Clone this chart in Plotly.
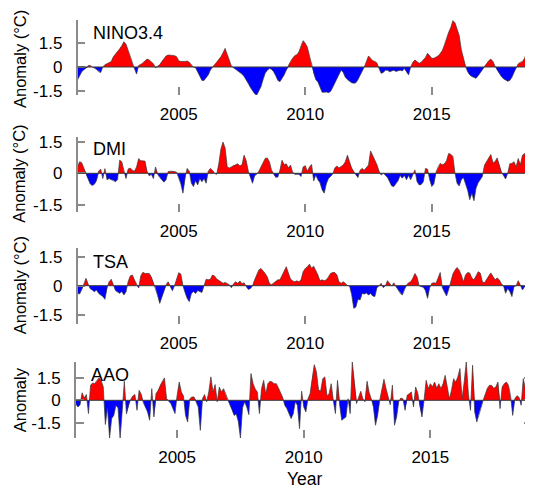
import plotly.graph_objects as go

# ---------------- data (monthly anomalies, Jan 2001 .. Dec 2018) ----------------
start_year = 2001
nino34 = [
    -0.82, -0.55, -0.30, -0.18, -0.08, 0.08, 0.10, 0.00, -0.05, -0.15, -0.30, -0.35,
    0.00, 0.15, 0.20, 0.30, 0.35, 0.65, 0.80, 0.97, 1.15, 1.35, 1.60, 1.45,
    1.05, 0.60, 0.20, -0.10, -0.45, 0.10, 0.15, 0.25, 0.40, 0.50, 0.45, 0.35,
    0.20, -0.05, 0.05, 0.15, 0.35, 0.55, 0.70, 0.76, 0.75, 0.70, 0.72, 0.65,
    0.40, 0.35, 0.33, 0.35, 0.38, 0.30, 0.13, 0.00, -0.05, -0.30, -0.60, -0.85,
    -0.85, -0.65, -0.50, -0.20, 0.00, 0.15, 0.30, 0.45, 0.65, 0.90, 1.18, 0.80,
    0.40, 0.05, -0.05, -0.15, -0.20, -0.30, -0.45, -0.60, -0.80, -1.05, -1.30, -1.50,
    -1.70, -1.78, -1.55, -1.25, -0.80, -0.40, -0.20, -0.10, -0.15, -0.30, -0.55, -0.85,
    -0.93, -0.75, -0.50, -0.20, 0.10, 0.35, 0.55, 0.72, 0.78, 0.95, 1.35, 1.67,
    1.50, 1.25, 0.70, 0.15, -0.45, -0.80, -0.95, -1.30, -1.60, -1.60, -1.58, -1.63,
    -1.55, -1.30, -1.00, -0.75, -0.45, -0.20, -0.35, -0.65, -0.80, -0.90, -1.00, -1.03,
    -1.00, -0.80, -0.55, -0.30, 0.00, 0.35, 0.70, 0.55, 0.40, 0.35, 0.25, -0.10,
    -0.40, -0.35, -0.20, -0.20, -0.30, -0.25, -0.20, -0.28, -0.25, -0.20, -0.25, -0.10,
    -0.30, -0.50, 0.00, 0.30, 0.44, 0.35, 0.23, 0.30, 0.44, 0.60, 0.87, 0.70,
    0.55, 0.55, 0.60, 0.70, 0.85, 1.05, 1.40, 1.85, 2.20, 2.50, 2.94, 2.80,
    2.45, 2.00, 1.10, 0.50, 0.05, -0.30, -0.50, -0.60, -0.65, -0.72, -0.55, -0.35,
    -0.20, 0.05, 0.25, 0.40, 0.50, 0.35, 0.05, -0.20, -0.45, -0.60, -0.75, -0.85,
    -0.90, -0.85, -0.65, -0.35, -0.05, 0.20, 0.30, 0.35, 0.55, 0.95, 0.90, 0.75,
]
dmi = [
    0.30, 0.55, 0.50, 0.25, -0.05, -0.25, -0.50, -0.58, -0.52, -0.35, 0.10, 0.20,
    -0.25, 0.22, -0.30, -0.25, -0.30, -0.32, -0.40, -0.30, 0.62, 0.55, 0.10, -0.25,
    0.20, 0.25, 0.15, 0.10, 0.30, 0.70, 0.60, 0.60, 0.58, 0.08, -0.12, -0.05,
    -0.25, 0.30, -0.05, -0.20, -0.30, -0.42, -0.30, 0.08, 0.10, 0.10, 0.08, 0.05,
    -0.20, -0.50, -0.94, -0.20, 0.23, 0.10, -0.47, -0.63, -0.35, -0.55, -0.25, -0.40,
    -0.25, -0.47, 0.10, 0.23, 0.15, 0.00, -0.05, 0.45, 1.15, 1.48, 1.20, 0.30,
    0.25, 0.30, 0.38, 0.40, 0.45, 0.35, 0.40, 0.86, 0.60, 0.10, -0.20, -0.47,
    -0.12, -0.05, 0.10, 0.30, 0.55, 0.70, 0.73, 0.55, 0.15, -0.05, -0.19, -0.18,
    0.15, 0.62, 0.40, 0.45, 0.25, 0.39, 0.05, -0.05, -0.05, -0.05, -0.15, 0.30,
    0.36, 0.10, 0.30, 0.42, -0.36, -0.08, -0.30, -0.45, -0.78, -0.94, -0.50, -0.25,
    -0.15, -0.05, 0.25, 0.35, 0.25, 0.30, 0.39, 0.55, 0.86, 0.55, 0.25, 0.08,
    -0.08, -0.20, 0.15, 0.23, 0.15, 0.27, 0.39, 1.06, 0.86, 0.62, 0.40, 0.10,
    -0.08, 0.00, -0.08, -0.20, -0.40, -0.60, -0.63, -0.50, -0.35, -0.10, -0.23, -0.10,
    -0.30, -0.10, -0.30, -0.08, 0.16, -0.39, -0.55, -0.53, -0.40, 0.23, 0.20, -0.30,
    -0.63, -0.50, 0.05, 0.30, 0.47, 0.40, 0.45, 0.60, 0.94, 0.90, 0.80, 0.00,
    -0.47, -0.60, -0.30, -0.20, -0.50, -0.80, -1.25, -0.95, -1.30, -0.70, -0.45, -0.30,
    -0.15, 0.39, 0.55, 0.70, 0.89, 0.50, 0.55, 0.73, 0.40, 0.05, -0.10, -0.27,
    0.00, 0.45, 0.47, 0.55, 0.30, 0.70, 0.40, 0.86, 0.94, 0.70, 0.86, 0.62,
]
tsa = [
    -0.39, -0.43, -0.20, 0.05, 0.38, 0.10, -0.15, -0.22, -0.31, -0.22, -0.39, -0.48,
    -0.55, -0.70, -0.10, 0.20, 0.33, 0.05, -0.25, -0.33, -0.39, -0.30, -0.48, -0.31,
    0.20, 0.50, 0.55, 0.30, 0.05, -0.12, 0.50, 0.69, 0.63, 0.62, 0.63, 0.45,
    0.15, -0.10, -0.50, -0.91, -0.60, -0.25, 0.05, 0.20, -0.05, -0.26, 0.00, 0.33,
    0.67, 0.60, 0.00, -0.35, -0.65, -0.82, -0.40, -0.30, -0.40, -0.25, -0.30, -0.35,
    0.00, 0.33, 0.30, 0.33, 0.55, 0.50, 0.35, 0.28, 0.20, 0.12, 0.17, 0.12,
    0.05, -0.10, 0.10, 0.20, 0.12, 0.24, 0.10, 0.15, -0.05, -0.19, -0.15, 0.00,
    0.30, 0.60, 0.81, 0.89, 0.78, 0.63, 0.45, 0.12, 0.05, 0.15, 0.25, 0.30,
    0.30, 0.50, 0.70, 0.98, 0.65, 0.35, 0.25, 0.20, 0.25, 0.20, 0.30, 0.72,
    0.89, 0.97, 1.11, 0.90, 1.00, 0.80, 0.55, 0.25, 0.30, 0.26, 0.30, 0.45,
    0.63, 0.68, 0.68, 0.55, 0.20, 0.12, 0.20, 0.12, 0.00, 0.00, -0.45, -1.16,
    -1.10, -0.70, -0.73, -0.40, -0.43, -0.37, -0.48, -0.40, -0.53, -0.56, -0.10, 0.00,
    0.12, -0.10, 0.00, 0.26, 0.10, -0.02, 0.15, -0.05, -0.19, -0.39, -0.48, -0.20,
    0.03, 0.15, 0.20, 0.38, 0.63, 0.45, 0.00, -0.05, -0.08, -0.25, -0.65, -0.10,
    0.12, 0.15, 0.12, 0.40, 0.68, -0.10, -0.30, -0.53, -0.20, 0.20, 0.60, 0.80,
    0.94, 0.80, 0.55, 0.20, 0.55, 0.68, 0.65, 0.40, 0.30, 0.50, 0.72, 0.65,
    0.20, 0.15, 0.35, 0.50, 0.66, 0.45, 0.30, 0.40, 0.30, 0.10, 0.00, -0.39,
    -0.15, -0.30, -0.56, -0.05, 0.00, 0.26, 0.05, -0.22, -0.05, 0.08, 0.20, 0.30,
]
aao = [
    -0.25, -0.44, -0.30, 0.50, 0.15, 0.38, -0.88, 1.00, 1.15, 1.10, 1.32, 1.48,
    1.30, 0.90, -1.60, -0.50, -2.50, -1.20, -1.00, -0.35, -0.50, -2.50, -0.70, 1.26,
    -0.90, -0.30, 0.05, 0.29, 0.38, -0.66, 0.66, 0.40, -0.15, -0.44, -0.77, -1.32,
    0.77, -1.10, 0.44, 0.66, 1.00, 1.26, 1.48, 0.10, -0.07, -0.20, -0.55, -0.88,
    0.33, 1.21, 0.55, 0.29, -1.00, -1.43, 0.10, 0.22, 0.22, -0.10, -0.44, -1.99,
    0.10, 0.38, -0.10, 0.55, 1.55, 0.55, 1.04, -0.10, 0.88, 0.55, 0.77, 0.44,
    0.00, -0.30, -0.60, -1.00, -0.90, -1.40, -2.50, -0.50, -0.10, -0.44, -0.95, 1.77,
    1.10, 0.75, 0.55, -0.88, 0.77, 1.32, 0.40, 1.10, 1.26, 1.21, 1.10, 1.10,
    0.82, 0.55, 0.20, -0.33, -0.55, -0.88, -1.21, -0.90, -0.10, -0.33, -1.88, 0.60,
    -0.44, -0.77, 0.10, 0.44, 1.50, 2.36, 1.88, 0.70, 0.60, 1.43, 1.55, 0.30,
    0.44, 1.10, 0.00, -0.88, 1.32, -0.30, -1.32, -1.20, -1.10, 0.10, -0.88, 2.54,
    1.20, -0.22, 0.20, 0.60, 0.10, -0.10, 1.26, 0.50, 0.10, -0.44, -1.65, -1.00,
    0.00, 0.70, 1.39, 0.77, 0.20, -0.30, 1.00, -1.65, -1.10, -0.10, 0.15, 0.10,
    -0.66, 0.33, 0.44, 0.55, -0.44, 0.88, 0.50, -0.44, -1.10, 0.00, 1.32, 0.77,
    1.10, 0.90, 1.21, 0.80, 1.10, 0.77, 1.10, 1.65, 0.88, 0.10, 0.66, 1.43,
    1.20, 1.55, 2.10, 0.10, 1.20, 2.54, 0.40, -0.66, 2.32, -0.77, -1.43, -0.88,
    -0.50, 0.00, 0.40, 0.80, 0.99, 0.99, 0.80, 0.88, 1.21, -0.55, 0.88, 1.10,
    1.21, 0.99, 0.30, -1.00, 0.10, 0.30, 0.20, -0.33, 1.43, 0.80, 1.00, 0.88,
]
panel_names = ["NINO3.4", "DMI", "TSA", "AAO"]
y_titles = ["Anomaly (°C)", "Anomaly (°C)", "Anomaly (°C)", "Anomaly"]
x_tick_vals = [2005, 2010, 2015]
x_tick_text = ["2005", "2010", "2015"]
y_tick_vals = [-1.5, 0, 1.5]
y_tick_text = ["-1.5", "0", "1.5"]
x_title = "Year"

# ---------------- layout geometry (page pixels) ----------------
W, H = 533, 488
OFF = 8  # the page body margin shifts the figure by 8 px right and down
FONT = "Liberation Sans, Arial, Helvetica, sans-serif"
AXC = "#8a8a8a"
RED, BLUE = "#ff0000", "#0000ff"

geom = [
    dict(top=20.0, bot=95.0, yr=[-1.776, 2.98], xl=77.5, xr=533.0, lab_y=33.0, ty=59.5),
    dict(top=136.7, bot=211.7, yr=[-1.82, 1.735], xl=77.5, xr=533.0, lab_y=149.3, ty=174.2),
    dict(top=248.0, bot=323.5, yr=[-1.945, 1.94], xl=77.5, xr=533.0, lab_y=261.7, ty=285.8),
    dict(top=361.7, bot=438.0, yr=[-2.497, 2.556], xl=75.8, xr=531.7, lab_y=375.3, ty=399.8),
]


def fx(p):
    return (p - OFF) / W


def fy(p):
    return 1 - (p - OFF) / H


def split_sign(xs, ys):
    """insert zero crossings so the positive/negative fills meet exactly at 0"""
    ox, oy = [xs[0]], [ys[0]]
    for i in range(1, len(ys)):
        a, b = ys[i - 1], ys[i]
        if a * b < 0:
            t = a / (a - b)
            ox.append(xs[i - 1] + t * (xs[i] - xs[i - 1]))
            oy.append(0.0)
        ox.append(xs[i])
        oy.append(b)
    return ox, [max(v, 0.0) for v in oy], [min(v, 0.0) for v in oy]


series = [nino34, dmi, tsa, aao]
fig = go.Figure()
annotations = []
shapes = []

for i, (vals, g) in enumerate(zip(series, geom)):
    k = "" if i == 0 else str(i + 1)
    xs = [start_year + m / 12.0 for m in range(len(vals))]
    cx, pos, neg = split_sign(xs, vals)
    xa, ya = "x" + k, "y" + k
    fig.add_trace(go.Scatter(x=cx, y=pos, mode="lines", fill="tozeroy",
                             fillcolor=RED, line=dict(width=0, color=RED),
                             xaxis=xa, yaxis=ya, showlegend=False, hoverinfo="skip"))
    fig.add_trace(go.Scatter(x=cx, y=neg, mode="lines", fill="tozeroy",
                             fillcolor=BLUE, line=dict(width=0, color=BLUE),
                             xaxis=xa, yaxis=ya, showlegend=False, hoverinfo="skip"))
    fig.add_trace(go.Scatter(x=xs, y=vals, mode="lines",
                             line=dict(width=0.7, color="#3a3a3a"),
                             xaxis=xa, yaxis=ya, showlegend=False))

    xdom = [fx(g["xl"]), min(fx(g["xr"]), 1.0)]
    ydom = [fy(g["bot"]), fy(g["top"])]
    fig.layout["xaxis" + k] = dict(
        domain=xdom, range=[2001, 2019], anchor=ya,
        tickvals=x_tick_vals, ticktext=x_tick_text,
        ticks="inside", ticklen=8, tickwidth=1.5, tickcolor=AXC,
        showline=False, showgrid=False, zeroline=False,
        tickfont=dict(size=17, color="#000", family=FONT),
        ticklabelstandoff=7,
    )
    fig.layout["yaxis" + k] = dict(
        domain=ydom, range=g["yr"], anchor=xa,
        tickvals=y_tick_vals, ticktext=y_tick_text,
        ticks="inside", ticklen=8, tickwidth=1.5, tickcolor=AXC,
        showline=True, linecolor=AXC, linewidth=1.5, mirror="ticks",
        showgrid=False, zeroline=False,
        tickfont=dict(size=17, color="#000", family=FONT),
        ticklabelstandoff=10,
    )
    shapes.append(dict(type="line", xref=xa + " domain", x0=0, x1=1,
                       yref=ya, y0=0, y1=0, layer="above",
                       line=dict(color="#3a3a3a", width=1)))
    annotations.append(dict(text=panel_names[i], xref="paper", yref="paper",
                            x=fx(g["xl"] + 13), y=fy(g["lab_y"]),
                            xanchor="left", yanchor="middle", showarrow=False,
                            font=dict(size=18, color="#000", family=FONT)))
    annotations.append(dict(text=y_titles[i], xref="paper", yref="paper",
                            x=fx(19.5), y=fy(g["ty"]),
                            xanchor="center", yanchor="middle", textangle=-90,
                            showarrow=False, borderpad=0,
                            font=dict(size=16.5, color="#000", family=FONT)))

annotations.append(dict(text=x_title, xref="paper", yref="paper",
                        x=fx(305), y=fy(479), xanchor="center", yanchor="middle",
                        showarrow=False, font=dict(size=17.5, color="#000", family=FONT)))

fig.update_layout(
    width=W, height=H,
    margin=dict(l=0, r=0, t=0, b=0, autoexpand=False),
    paper_bgcolor="white", plot_bgcolor="white",
    annotations=annotations, shapes=shapes,
    showlegend=False,
)
fig.write_html("out.html")
